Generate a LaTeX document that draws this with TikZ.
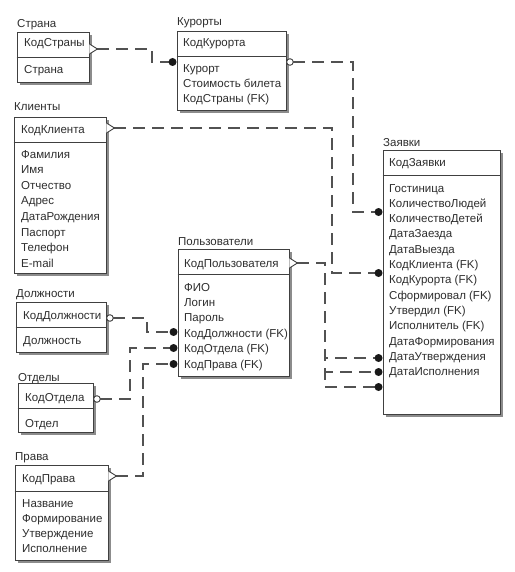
\documentclass[tikz,border=0pt]{standalone}
\usepackage{fontspec}
\setmainfont{Liberation Sans}
\tikzset{
  shadowc/.style={fill=black!45},
  ebox/.style={draw=black!75, line width=0.9pt, fill=white, inner sep=0pt, shape=rectangle},
  boxline/.style={draw=black!75, line width=0.9pt},
  txt/.style={inner sep=0pt, anchor=base west, text=black!82},
  rel/.style={draw=black!68, line width=1.2pt, dash pattern=on 12pt off 7pt},
  endmk/.style={draw=black!75, line width=0.9pt, fill=white},
  dotmk/.style={fill=black!90},
}
\newcommand{\ent}[6]{%
  \fill[shadowc] ({#2+3},{#3+3}) rectangle ({#4+3},{#5+3});
  \node[ebox, minimum width={(#4-#2)*1pt}, minimum height={(#5-#3)*1pt}] (#1) at ({(#2+#4)/2},{(#3+#5)/2}) {};
  \draw[boxline] (#1.west |- 0,#6) -- (#1.east |- 0,#6);
}
\newcommand{\rows}[5]{%
  \foreach \t [count=\i from 0] in {#5} {\node[txt] (#1-\i) at (#2,{#3+\i*#4}) {\t};}
}
\newcommand{\pdiam}[1]{\filldraw[endmk] (#1) ++(0,-5) -- ++(8,5) -- ++(-8,5);}
\newcommand{\pcirc}[1]{\filldraw[endmk] ([xshift=3.5pt]#1) circle (3.3);}
\newcommand{\cdotmk}[1]{\fill[dotmk] (#1) circle (4);}
\begin{document}
\begin{tikzpicture}[x=1pt,y=-1pt, font=\fontsize{11.5}{13}\selectfont]
\useasboundingbox[fill=white] (0,0) rectangle (514,572);

% entities
\ent{strana}{17}{32}{89}{82}{57}
\ent{kurorty}{177}{31}{286}{110}{56}
\ent{klienty}{14}{117}{106}{273}{142}
\ent{polz}{178}{249}{289}{376}{274}
\ent{zayavki}{383}{150}{500}{414}{175}
\ent{dolzh}{16}{302}{106}{352}{327}
\ent{otdely}{18}{383}{93}{432}{408}
\ent{prava}{15}{465}{108}{560}{491}

% titles
\node[txt] (strana-t) at (17,28) {Страна};
\node[txt] (kurorty-t) at (177,26) {Курорты};
\node[txt] (klienty-t) at (14,111) {Клиенты};
\node[txt] (polz-t) at (178,245) {Пользователи};
\node[txt] (zayavki-t) at (383,147) {Заявки};
\node[txt] (dolzh-t) at (16,297) {Должности};
\node[txt] (otdely-t) at (18,381) {Отделы};
\node[txt] (prava-t) at (15,460) {Права};

% keys
\node[txt] (strana-k) at (24,47) {КодСтраны};
\node[txt] (kurorty-k) at (183,47) {КодКурорта};
\node[txt] (klienty-k) at (21,134) {КодКлиента};
\node[txt] (polz-k) at (184,267) {КодПользователя};
\node[txt] (zayavki-k) at (389,167) {КодЗаявки};
\node[txt] (dolzh-k) at (23,319) {КодДолжности};
\node[txt] (otdely-k) at (25,401) {КодОтдела};
\node[txt] (prava-k) at (22,482) {КодПрава};

% attributes
\rows{strana-a}{24}{74}{15}{Страна}
\rows{kurorty-a}{183}{73}{15}{Курорт,Стоимость билета,КодСтраны (FK)}
\rows{klienty-a}{21}{158}{15.6}{Фамилия,Имя,Отчество,Адрес,ДатаРождения,Паспорт,Телефон,E-mail}
\rows{polz-a}{184}{291}{15.4}{ФИО,Логин,Пароль,КодДолжности (FK),КодОтдела (FK),КодПрава (FK)}
\rows{zayavki-a}{389}{192}{15.33}{Гостиница,КоличествоЛюдей,КоличествоДетей,ДатаЗаезда,ДатаВыезда,КодКлиента (FK),КодКурорта (FK),Сформировал (FK),Утвердил (FK),Исполнитель (FK),ДатаФормирования,ДатаУтверждения,ДатаИсполнения}
\rows{dolzh-a}{23}{344}{15}{Должность}
\rows{otdely-a}{25}{427}{15}{Отдел}
\rows{prava-a}{22}{507}{15.3}{Название,Формирование,Утверждение,Исполнение}

% connector end points
\coordinate (r1s) at (strana.east |- 0,49);
\coordinate (r1e) at ([xshift=-4pt]kurorty.west |- 0,62);
\coordinate (r2s) at (kurorty.east |- 0,62);
\coordinate (r2e) at ([xshift=-4pt]zayavki.west |- 0,212);
\coordinate (r3s) at (klienty.east |- 0,128);
\coordinate (r3e) at ([xshift=-4pt]zayavki.west |- 0,273);
\coordinate (r4s) at (polz.east |- 0,263);
\coordinate (r4e) at ([xshift=-4pt]zayavki.west |- 0,358);
\coordinate (r5e) at ([xshift=-4pt]zayavki.west |- 0,372);
\coordinate (r6e) at ([xshift=-4pt]zayavki.west |- 0,387);
\coordinate (r7s) at (dolzh.east |- 0,318);
\coordinate (r7e) at ([xshift=-4pt]polz.west |- 0,332);
\coordinate (r8s) at (otdely.east |- 0,399);
\coordinate (r8e) at ([xshift=-4pt]polz.west |- 0,348);
\coordinate (r9s) at (prava.east |- 0,476);
\coordinate (r9e) at ([xshift=-4pt]polz.west |- 0,364);

% connectors
\draw[rel] ([xshift=8pt]r1s) -- (152,49) |- (r1e);
\draw[rel] ([xshift=7pt]r2s) -- (353,62) |- (r2e);
\draw[rel] ([xshift=8pt]r3s) -- (332,128) |- (r3e);
\draw[rel] ([xshift=8pt]r4s) -- (325,263) |- (r4e);
\draw[rel] ([xshift=8pt]r4s) -- (325,263) |- (r5e);
\draw[rel] ([xshift=8pt]r4s) -- (325,263) |- (r6e);
\draw[rel] ([xshift=7pt]r7s) -- (147,318) |- (r7e);
\draw[rel] ([xshift=7pt]r8s) -- (130,399) |- (r8e);
\draw[rel] ([xshift=8pt]r9s) -- (143,476) |- (r9e);

% markers
\pdiam{r1s}
\pcirc{r2s}
\pdiam{r3s}
\pdiam{r4s}
\pcirc{r7s}
\pcirc{r8s}
\pdiam{r9s}
\cdotmk{r1e}
\cdotmk{r2e}
\cdotmk{r3e}
\cdotmk{r4e}
\cdotmk{r5e}
\cdotmk{r6e}
\cdotmk{r7e}
\cdotmk{r8e}
\cdotmk{r9e}
\end{tikzpicture}
\end{document}
